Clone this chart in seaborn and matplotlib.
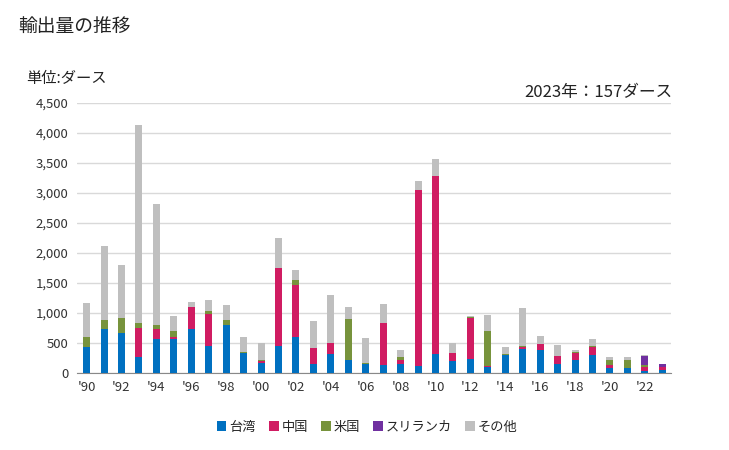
import matplotlib
matplotlib.use("Agg")
import matplotlib.pyplot as plt
from matplotlib.patches import Patch
import seaborn as sns
import numpy as np
import pandas as pd

years = list(range(1990, 2024))
taiwan = [439, 739, 672, 272, 561, 561, 739, 456, 794, 339, 167,
          456, 594, 156, 322, 222, 156, 133, 156, 122, 322, 200,
          239, 100, 306, 406, 389, 156, 222, 300, 89, 89, 33, 56]
china = [0, 0, 0, 484, 178, 33, 367, 533, 12, 0, 39,
         1300, 878, 266, 184, 0, 0, 706, 66, 2934, 2967, 139,
         683, 17, 0, 33, 100, 133, 117, 139, 44, 0, 73, 44]
usa = [167, 150, 250, 83, 67, 112, 0, 50, 83, 17, 17,
       0, 84, 0, 0, 684, 16, 0, 50, 0, 0, 0,
       17, 589, 16, 17, 0, 0, 17, 17, 89, 133, 27, 0]
srilanka = [0] * 32 + [156, 57]
other = [566, 1233, 884, 3300, 2016, 250, 83, 183, 250, 250, 283,
         500, 166, 450, 800, 200, 417, 317, 117, 150, 283, 167,
         17, 266, 117, 633, 133, 183, 33, 116, 50, 50, 17, 0]

series_names = ["台湾", "中国", "米国", "スリランカ", "その他"]
colors = ["#0070C0", "#D01C62", "#77933C", "#7030A0", "#BFBFBF"]
x_labels = ["'" + str(y)[2:] for y in years]

df = pd.DataFrame({"year": [str(y) for y in years], "台湾": taiwan, "中国": china,
                   "米国": usa, "スリランカ": srilanka, "その他": other})
cum = df[series_names].cumsum(axis=1)

sns.set_style("white")
plt.rcParams["font.family"] = ["Noto Sans CJK JP", "DejaVu Sans"]

fig = plt.figure(figsize=(7.29, 4.5), dpi=100)
ax = fig.add_axes([77 / 729, 1 - 373 / 450, (671 - 77) / 729, 270 / 450])

for name, col in reversed(list(zip(series_names, colors))):
    sns.barplot(x=df["year"], y=cum[name], color=col, width=0.4,
                saturation=1, ax=ax, zorder=3, linewidth=0)

ax.set_ylim(0, 4500)
ax.set_xlim(-0.55, len(years) - 0.5)
ax.set_yticks(np.arange(0, 4501, 500))
ax.set_yticklabels([f"{v:,}" for v in range(0, 4501, 500)], fontsize=9.5, color="#333333")
ax.set_xticks(range(0, len(years), 2))
ax.set_xticklabels(x_labels[::2], fontsize=9.5, color="#333333")
ax.set_xlabel("")
ax.set_ylabel("")
ax.grid(axis="y", color="#D9D9D9", linewidth=1, zorder=0)
ax.set_axisbelow(True)
for s in ["top", "right", "left"]:
    ax.spines[s].set_visible(False)
ax.spines["bottom"].set_color("#898989")
ax.tick_params(axis="both", length=0, pad=6)

fig.text(18 / 729, 1 - 26 / 450, "輸出量の推移", fontsize=13.5, va="center", ha="left", color="#222222")
fig.text(26 / 729, 1 - 78 / 450, "単位:ダース", fontsize=11, va="center", ha="left", color="#222222")
fig.text(672 / 729, 1 - 92 / 450, "2023年：157ダース", fontsize=12, va="center", ha="right", color="#222222")

handles = [Patch(facecolor=c, edgecolor="none") for c in colors]
fig.legend(handles, series_names, loc="center", bbox_to_anchor=(367 / 729, 1 - 427 / 450),
           ncol=5, frameon=False, fontsize=9.5, handlelength=0.75, handleheight=0.75,
           handletextpad=0.2, columnspacing=1.0)

fig.savefig("out.png", dpi=100)
